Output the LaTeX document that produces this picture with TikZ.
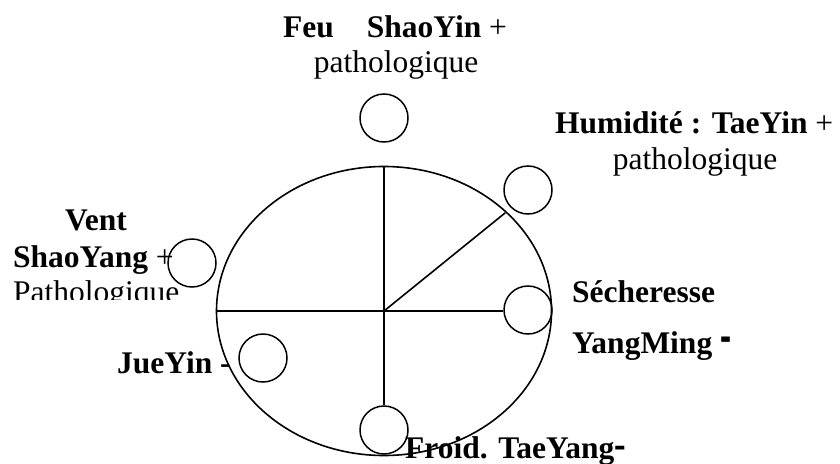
\documentclass[tikz,border=0pt]{standalone}
\usepackage{fontspec}
\setmainfont{Liberation Serif}
\usetikzlibrary{shapes.geometric}
\begin{document}
\begin{tikzpicture}[x=1pt,y=-1pt,
  lbl/.style={anchor=base west,inner sep=0,font=\fontsize{31.5}{36}\selectfont},
  lblc/.style={anchor=base,inner sep=0,font=\fontsize{31.5}{36}\selectfont},
  circ/.style={draw,circle,minimum size=48pt,inner sep=0,line width=1.5pt},
  ln/.style={line width=1.6pt}]
\useasboundingbox (0,0) rectangle (840,463);
% main ellipse
\node[draw,ellipse,minimum width=335pt,minimum height=289pt,inner sep=0,line width=1.6pt] (E) at (384,311) {};
% small circles
\node[circ] (cT) at (384,118) {};
\node[circ] (cH) at (528,190) {};
\node[circ] (cS) at (528,310) {};
\node[circ] (cF) at (384,430) {};
\node[circ] (cV) at (192,263) {};
\node[circ] (cJ) at (263,358) {};
% lines
\draw[ln] (E.north) -- (cF.north);
\draw[ln] (E.west) -- (E.west -| cS.west);
\draw[ln,shorten >=2pt] (E.center) -- (E.39);
% labels
\node[lbl] (tFeu) at (283,37) {\textbf{Feu}\hspace{33pt}\textbf{ShaoYin} +};
\node[lblc] (tFeuP) at (396,72) {pathologique};
\node[lbl] (tHum) at (555,133) {\textbf{Humidité : TaeYin} +};
\node[lblc] (tHumP) at (695,169) {pathologique};
\node[lblc] (tVent) at (96,230) {\textbf{Vent}};
\node[lbl] (tSY) at (13,267) {\textbf{ShaoYang} +};
\begin{scope}
\clip (0,0) rectangle (300,299.5);
\node[lbl] (tSYP) at (13,302) {Pathologique};
\end{scope}
\node[lbl] (tJue) at (117,373) {\textbf{JueYin -}};
\node[lbl] (tSec) at (572,302) {\textbf{Sécheresse}};
\node[lbl] (tYM) at (572,353) {\textbf{YangMing \raisebox{-1pt}{\scalebox{1.05}[2]{-}}}};
\node[lbl] (tFr) at (405,458) {\textbf{Froid. TaeYang\scalebox{1.1}[1.4]{-}}};
\end{tikzpicture}
\end{document}
